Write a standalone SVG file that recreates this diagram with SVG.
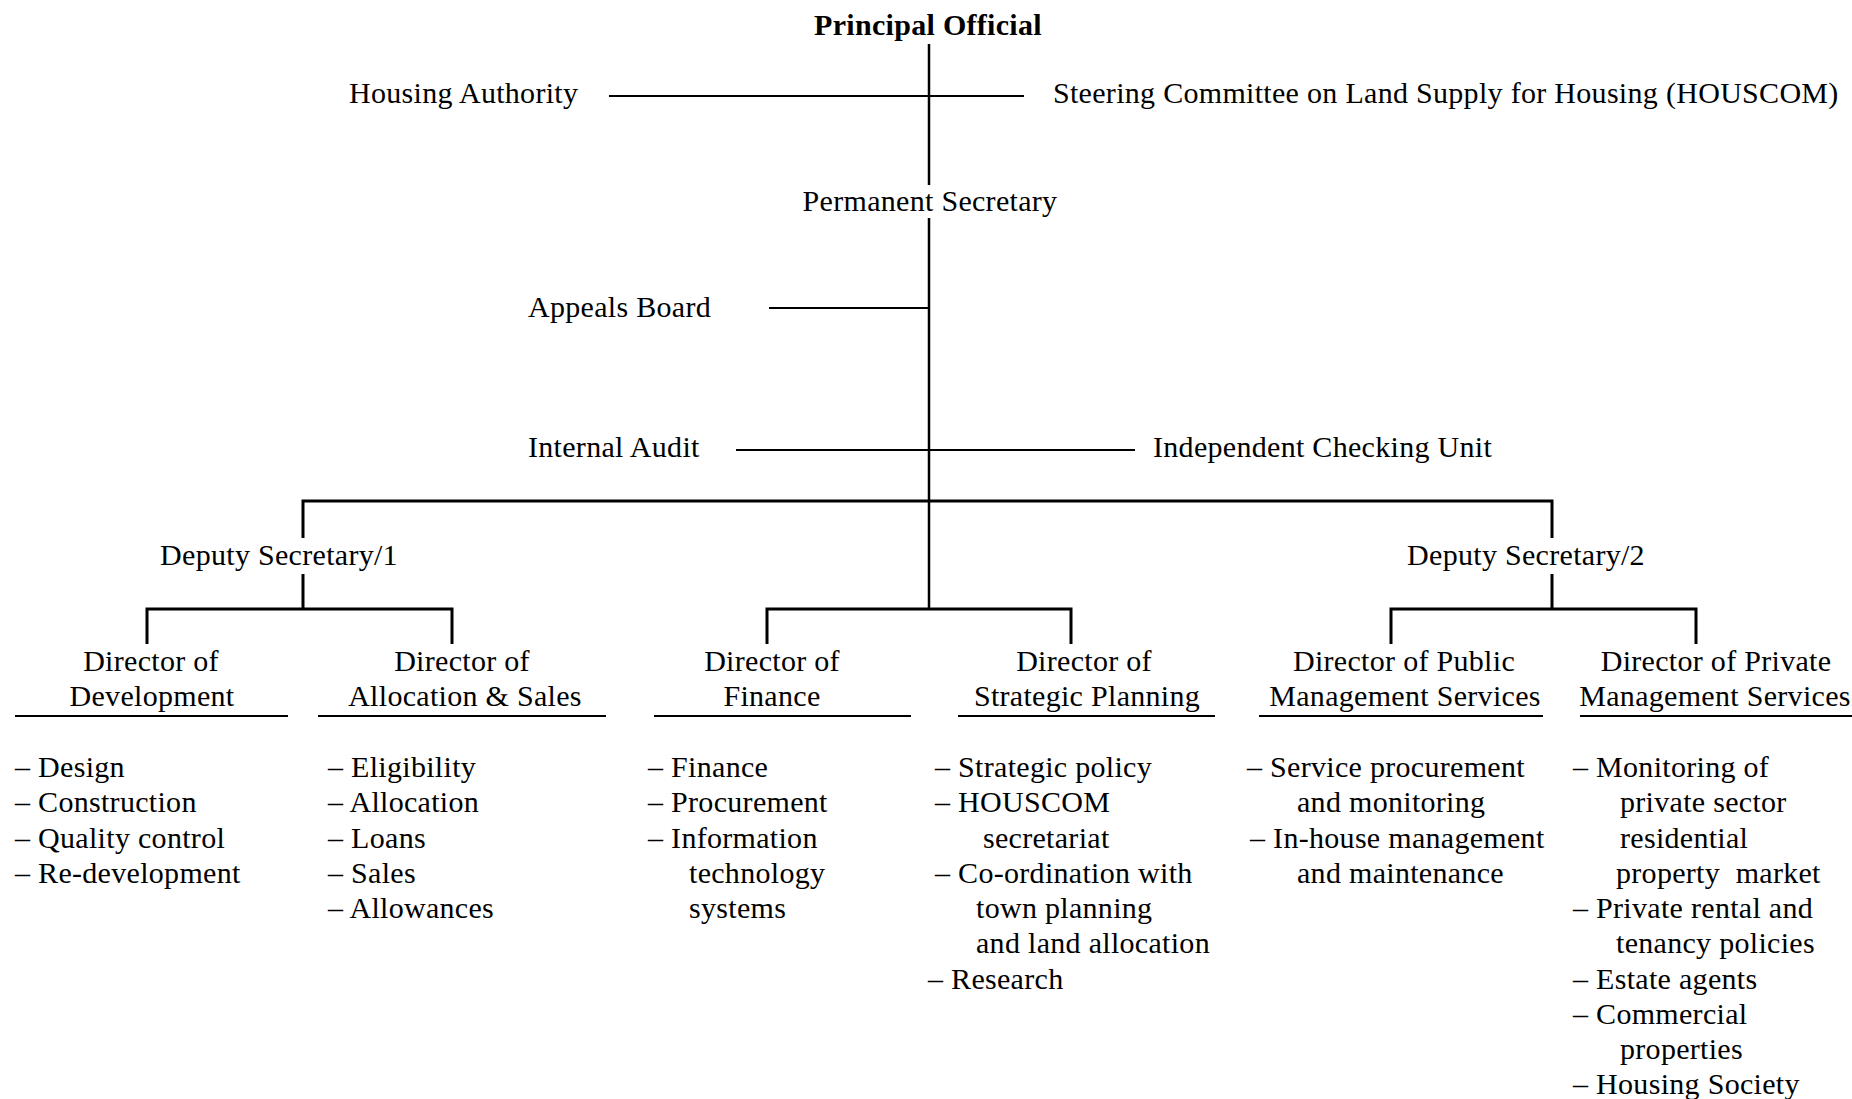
<svg xmlns="http://www.w3.org/2000/svg" width="1852" height="1099" viewBox="0 0 1852 1099">
<style>
text{font-family:"Liberation Serif","Times New Roman",serif;font-size:30px;fill:#000;letter-spacing:0.3px}
.b{font-weight:bold}
.m{text-anchor:middle}
.thin{stroke:#000;stroke-width:2;fill:none}
.main{stroke:#000;stroke-width:2.5;fill:none}
.tree{stroke:#000;stroke-width:3;fill:none}
.ul{stroke:#000;stroke-width:2}
</style>
<rect width="1852" height="1099" fill="#fff"/>
<g id="connectors">
<line class="main" x1="929" y1="44" x2="929" y2="185"/>
<line class="main" x1="929" y1="218" x2="929" y2="609"/>
<line class="thin" x1="609" y1="96" x2="1024" y2="96"/>
<line class="thin" x1="769" y1="308" x2="929" y2="308"/>
<line class="thin" x1="736" y1="450" x2="1135" y2="450"/>
<polyline class="tree" points="303,538 303,501 1552,501 1552,538"/>
<line class="tree" x1="303" y1="574" x2="303" y2="609"/>
<polyline class="tree" points="147,644 147,609 452,609 452,644"/>
<polyline class="tree" points="767,644 767,609 1071,609 1071,644"/>
<line class="tree" x1="1552" y1="574" x2="1552" y2="609"/>
<polyline class="tree" points="1391,644 1391,609 1696,609 1696,644"/>
</g>
<g id="principal-official"><text class="b m" x="928" y="35">Principal Official</text></g>
<g id="housing-authority"><text x="349" y="103">Housing Authority</text></g>
<g id="houscom"><text x="1053" y="103">Steering Committee on Land Supply for Housing (HOUSCOM)</text></g>
<g id="permanent-secretary"><text class="m" x="930" y="211">Permanent Secretary</text></g>
<g id="appeals-board"><text x="528" y="317">Appeals Board</text></g>
<g id="internal-audit"><text x="528" y="457">Internal Audit</text></g>
<g id="independent-checking-unit"><text x="1153" y="457">Independent Checking Unit</text></g>
<g id="deputy-secretary-1"><text class="m" x="279" y="565">Deputy Secretary/1</text></g>
<g id="deputy-secretary-2"><text class="m" x="1526" y="565">Deputy Secretary/2</text></g>
<g id="director-development">
<text class="m" x="151" y="671">Director of</text>
<text class="m" x="152" y="706">Development</text>
<line class="ul" x1="15" y1="716" x2="288" y2="716"/>
<text x="15" y="777">– Design</text>
<text x="15" y="812">– Construction</text>
<text x="15" y="848">– Quality control</text>
<text x="15" y="883">– Re-development</text>
</g>
<g id="director-allocation">
<text class="m" x="462" y="671">Director of</text>
<text class="m" x="465" y="706">Allocation &amp; Sales</text>
<line class="ul" x1="318" y1="716" x2="606" y2="716"/>
<text x="328" y="777">– Eligibility</text>
<text x="328" y="812">– Allocation</text>
<text x="328" y="848">– Loans</text>
<text x="328" y="883">– Sales</text>
<text x="328" y="918">– Allowances</text>
</g>
<g id="director-finance">
<text class="m" x="772" y="671">Director of</text>
<text class="m" x="772" y="706">Finance</text>
<line class="ul" x1="654" y1="716" x2="911" y2="716"/>
<text x="648" y="777">– Finance</text>
<text x="648" y="812">– Procurement</text>
<text x="648" y="848">– Information</text>
<text x="689" y="883">technology</text>
<text x="689" y="918">systems</text>
</g>
<g id="director-strategic-planning">
<text class="m" x="1084" y="671">Director of</text>
<text class="m" x="1087" y="706">Strategic Planning</text>
<line class="ul" x1="958" y1="716" x2="1215" y2="716"/>
<text x="935" y="777">– Strategic policy</text>
<text x="935" y="812">– HOUSCOM</text>
<text x="983" y="848">secretariat</text>
<text x="935" y="883">– Co-ordination with</text>
<text x="976" y="918">town planning</text>
<text x="976" y="953">and land allocation</text>
<text x="928" y="989">– Research</text>
</g>
<g id="director-public-management">
<text class="m" x="1404" y="671">Director of Public</text>
<text class="m" x="1405" y="706">Management Services</text>
<line class="ul" x1="1259" y1="716" x2="1543" y2="716"/>
<text x="1247" y="777">– Service procurement</text>
<text x="1297" y="812">and monitoring</text>
<text x="1250" y="848">– In-house management</text>
<text x="1297" y="883">and maintenance</text>
</g>
<g id="director-private-management">
<text class="m" x="1716" y="671">Director of Private</text>
<text class="m" x="1715" y="706">Management Services</text>
<line class="ul" x1="1580" y1="716" x2="1852" y2="716"/>
<text x="1573" y="777">– Monitoring of</text>
<text x="1620" y="812">private sector</text>
<text x="1620" y="848">residential</text>
<text x="1616" y="883" xml:space="preserve">property  market</text>
<text x="1573" y="918">– Private rental and</text>
<text x="1616" y="953">tenancy policies</text>
<text x="1573" y="989">– Estate agents</text>
<text x="1573" y="1024">– Commercial</text>
<text x="1620" y="1059">properties</text>
<text x="1573" y="1094">– Housing Society</text>
</g>
</svg>
